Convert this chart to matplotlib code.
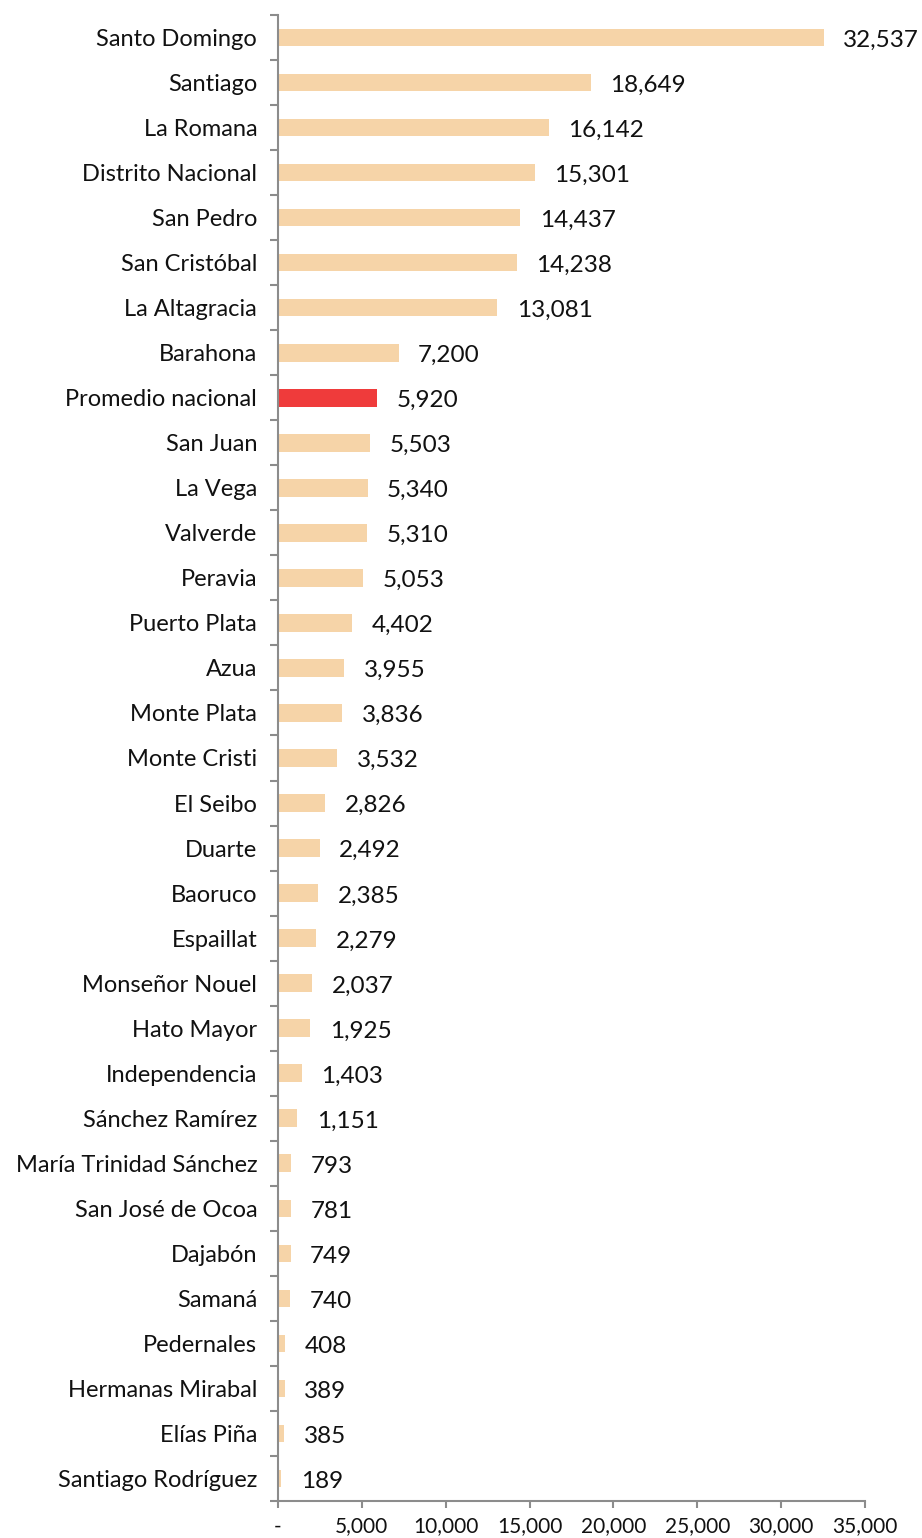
import matplotlib
matplotlib.use("Agg")
import matplotlib.pyplot as plt
import numpy as np

categories = ["Santo Domingo", "Santiago", "La Romana", "Distrito Nacional", "San Pedro",
              "San Cristóbal", "La Altagracia", "Barahona", "Promedio nacional", "San Juan",
              "La Vega", "Valverde", "Peravia", "Puerto Plata", "Azua", "Monte Plata",
              "Monte Cristi", "El Seibo", "Duarte", "Baoruco", "Espaillat", "Monseñor Nouel",
              "Hato Mayor", "Independencia", "Sánchez Ramírez", "María Trinidad Sánchez",
              "San José de Ocoa", "Dajabón", "Samaná", "Pedernales", "Hermanas Mirabal",
              "Elías Piña", "Santiago Rodríguez"]
values = [32537, 18649, 16142, 15301, 14437, 14238, 13081, 7200, 5920, 5503,
          5340, 5310, 5053, 4402, 3955, 3836, 3532, 2826, 2492, 2385, 2279, 2037,
          1925, 1403, 1151, 793, 781, 749, 740, 408, 389, 385, 189]
highlight = "Promedio nacional"
xticks = [0, 5000, 10000, 15000, 20000, 25000, 30000, 35000]
xtick_labels = ["-", "5,000", "10,000", "15,000", "20,000", "25,000", "30,000", "35,000"]

plt.rcParams['font.family'] = ['Lato', 'DejaVu Sans']

fig = plt.figure(figsize=(9.22, 15.38), dpi=100)
ax = fig.add_axes([278/922, 1 - 1501/1538, (865-278)/922, (1501-15)/1538])

n = len(categories)
y = np.arange(n)
colors = ["#EF3B3B" if c == highlight else "#F6D4A8" for c in categories]
ax.barh(y, values, height=0.39, color=colors, zorder=2)

for yi, v in zip(y, values):
    ax.annotate(f"{v:,}", xy=(v, yi), xytext=(14, -2), textcoords="offset points",
                ha="left", va="center", fontsize=17.5, color="#111111")

ax.set_ylim(n - 0.5, -0.5)
ax.set_xlim(0, 35000)
ax.set_yticks(y)
ax.set_yticklabels(categories, fontsize=17, color="#111111")
ax.set_yticks(np.arange(n + 1) - 0.5, minor=True)
ax.tick_params(axis="y", which="major", length=0, pad=15)
ax.tick_params(axis="y", which="minor", length=6, width=1.5, color="#8c8c8c", direction="out")

ax.set_xticks(xticks)
ax.set_xticklabels(xtick_labels, fontsize=15, color="#111111")
ax.tick_params(axis="x", which="major", length=5, width=1.5, color="#8c8c8c", pad=6)

for s in ["top", "right"]:
    ax.spines[s].set_visible(False)
for s in ["left", "bottom"]:
    ax.spines[s].set_color("#8c8c8c")
    ax.spines[s].set_linewidth(1.5)
ax.spines["left"].set_zorder(3)

fig.savefig("out.png", dpi=100)
